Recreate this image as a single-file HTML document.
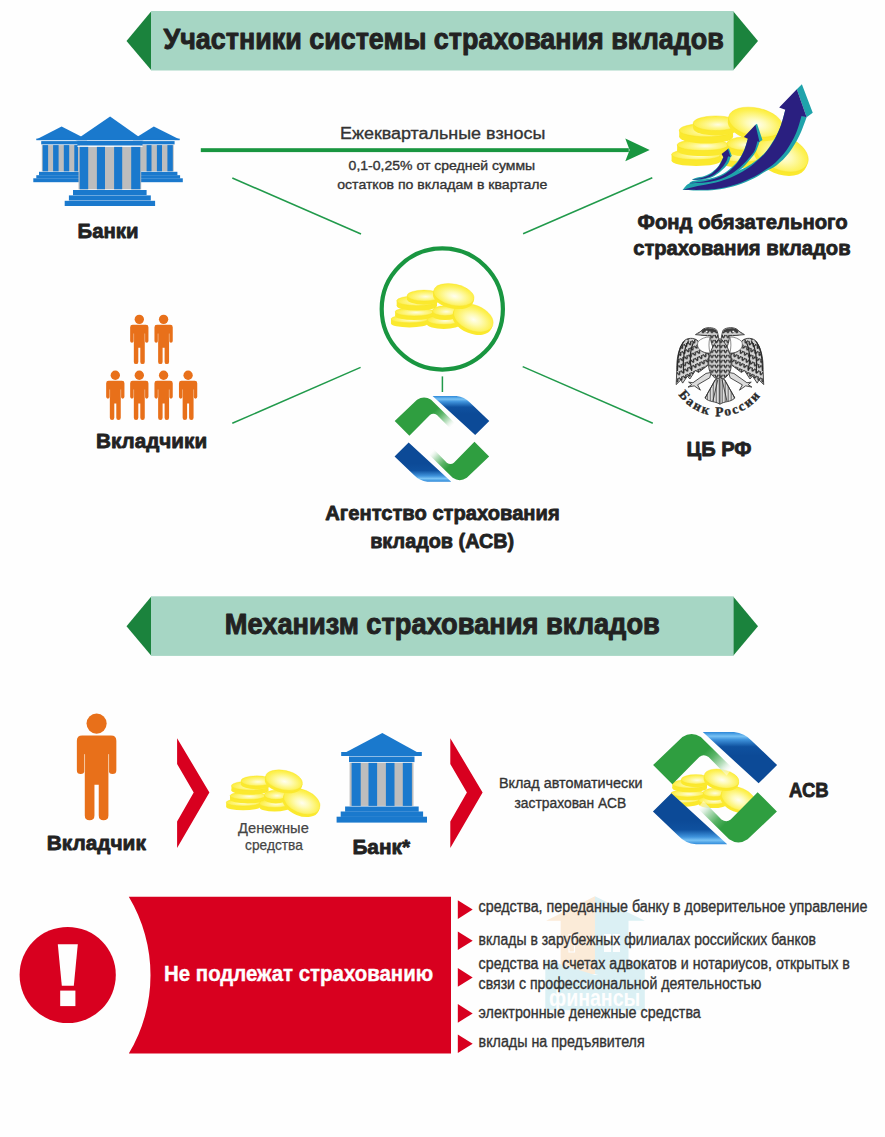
<!DOCTYPE html>
<html lang="ru">
<head>
<meta charset="utf-8">
<title>Система страхования вкладов</title>
<style>
html,body{margin:0;padding:0;background:#fefefe;}
body{width:885px;height:1137px;overflow:hidden;font-family:"Liberation Sans",sans-serif;}
svg{display:block;}
text{font-family:"Liberation Sans",sans-serif;}
.b{font-weight:bold;fill:#222;stroke:#222;stroke-width:0.8px;stroke-linejoin:round;}
.r{font-weight:normal;fill:#333;stroke:#333;stroke-width:0.35px;stroke-linejoin:round;}
.serif{font-family:"Liberation Serif",serif;font-weight:bold;fill:#2a2a2a;stroke:#2a2a2a;stroke-width:0.35px;}
</style>
</head>
<body>
<svg width="885" height="1137" viewBox="0 0 885 1137">
<defs>
<symbol id="person" viewBox="-100 0 200 500" overflow="visible">
<circle cx="0" cy="47" r="47"/>
<path d="M-67,102 H67 Q92,102 92,127 V264 Q92,282 74,282 Q57,282 57,264 V190 H55 V475 Q55,497 32.500,497 Q10,497 10,475 V332 H-10 V475 Q-10,497 -32.500,497 Q-55,497 -55,475 V190 H-57 V264 Q-57,282 -74,282 Q-92,282 -92,264 V127 Q-92,102 -67,102 Z"/>
<path d="M-56,190 V270 M56,190 V270" stroke="#f6c9a3" stroke-width="4" fill="none"/>
</symbol>
<radialGradient id="cg" cx="0.52" cy="0.56" r="0.6">
<stop offset="0" stop-color="#fffef0"/><stop offset="0.3" stop-color="#fefbb8"/><stop offset="0.75" stop-color="#fdf155"/><stop offset="1" stop-color="#fdec30"/>
</radialGradient>
<radialGradient id="cg2" cx="0.55" cy="0.6" r="0.62">
<stop offset="0" stop-color="#fffde0"/><stop offset="0.4" stop-color="#fef78e"/><stop offset="1" stop-color="#fdec30"/>
</radialGradient>
<symbol id="coins" viewBox="0 0 885 500" overflow="visible">
<g><ellipse cx="188" cy="374" rx="142" ry="30" fill="#fbe92e"/><rect x="46" y="338" width="284" height="36" fill="#fbe92e"/><ellipse cx="188" cy="338" rx="142" ry="30" fill="url(#cg2)" stroke="#f6e022" stroke-width="2.5"/></g>
<g><ellipse cx="225" cy="315" rx="147" ry="32" fill="#fbe92e"/><rect x="78" y="283" width="294" height="32" fill="#fbe92e"/><ellipse cx="225" cy="283" rx="147" ry="32" fill="url(#cg2)" stroke="#f6e022" stroke-width="2.5"/></g>
<g><ellipse cx="245" cy="236" rx="155" ry="38" fill="#fbe92e"/><rect x="90" y="198" width="310" height="38" fill="#fbe92e"/><ellipse cx="245" cy="198" rx="155" ry="38" fill="url(#cg2)" stroke="#f6e022" stroke-width="2.5"/></g>
<g><ellipse cx="300" cy="186" rx="130" ry="42" fill="#fbe92e"/><rect x="170" y="158" width="260" height="28" fill="#fbe92e"/><ellipse cx="300" cy="158" rx="130" ry="42" fill="url(#cg2)" stroke="#f6e022" stroke-width="2.5"/></g>
<g><ellipse cx="452" cy="379" rx="128" ry="36" fill="#fbe92e"/><rect x="324" y="345" width="256" height="34" fill="#fbe92e"/><ellipse cx="452" cy="345" rx="128" ry="36" fill="url(#cg2)" stroke="#f6e022" stroke-width="2.5"/></g>
<g><ellipse cx="462" cy="309" rx="98" ry="38" fill="#fbe92e"/><rect x="364" y="275" width="196" height="34" fill="#fbe92e"/><ellipse cx="462" cy="275" rx="98" ry="38" fill="url(#cg2)" stroke="#f6e022" stroke-width="2.5"/></g>
<g transform="rotate(22 680 330)"><ellipse cx="680" cy="354" rx="160" ry="98" fill="#fbe92e"/><rect x="520" y="330" width="320" height="24" fill="#fbe92e"/><ellipse cx="680" cy="330" rx="160" ry="98" fill="url(#cg)" stroke="#f6e022" stroke-width="2.5"/></g>
<g transform="rotate(12 530 152)"><ellipse cx="530" cy="176" rx="158" ry="82" fill="#fbe92e"/><rect x="372" y="152" width="316" height="24" fill="#fbe92e"/><ellipse cx="530" cy="152" rx="158" ry="82" fill="url(#cg)" stroke="#f6e022" stroke-width="2.5"/></g>
</symbol>
<linearGradient id="gfade" gradientUnits="userSpaceOnUse" x1="385" y1="265" x2="495" y2="375">
<stop offset="0" stop-color="#2f9e40"/><stop offset="0.3" stop-color="#5ab467"/><stop offset="0.7" stop-color="#bfe2c4"/><stop offset="1" stop-color="#fdfdfd" stop-opacity="0.45"/>
</linearGradient>
<linearGradient id="bgrad" gradientUnits="userSpaceOnUse" x1="0" y1="176" x2="0" y2="300">
<stop offset="0" stop-color="#2a86d8"/><stop offset="0.18" stop-color="#78c2f4"/><stop offset="0.32" stop-color="#3f93dc"/><stop offset="0.62" stop-color="#0f519f"/><stop offset="1" stop-color="#0c4a97"/>
</linearGradient>
<g id="asvtop">
<path d="M100,348 L252,203 Q300,170 348,203 L512,364 L482,402 L388,306 Q362,288 340,306 L200,448 Z" fill="url(#gfade)"/>
<path d="M358,177 L520,177 Q575,182 612,222 L744,348 L648,443 Z" fill="url(#bgrad)"/>
</g>
<g id="asvbot"><use href="#asvtop" transform="rotate(180 421.5 468.5)"/></g>
<pattern id="feath" patternUnits="userSpaceOnUse" width="36" height="46" patternTransform="rotate(-24)">
<rect width="36" height="46" fill="#d4d4d4"/>
<path d="M0,0 Q18,62 36,0 Z" fill="#2c2c2c"/>
<path d="M13,0 Q18,30 23,0 Z" fill="#f0f0f0"/>
</pattern>
<pattern id="scale" patternUnits="userSpaceOnUse" width="36" height="40">
<rect width="36" height="40" fill="#cfcfcf"/>
<path d="M0,0 Q18,54 36,0 Z" fill="#2c2c2c"/>
<path d="M13,0 Q18,26 23,0 Z" fill="#f0f0f0"/>
</pattern>
<pattern id="tailp" patternUnits="userSpaceOnUse" width="24" height="10">
<rect width="24" height="10" fill="#f0f0f0"/><rect x="0" width="7" height="10" fill="#4a4a4a"/><rect x="14" width="3" height="10" fill="#909090"/>
</pattern>
<!--DEFS-->
</defs>
<rect x="0" y="0" width="885" height="1137" fill="#fefefe"/>

<!-- ===== Banner 1 ===== -->
<g id="banner1">
<polygon points="151.3,11.3 126.5,40.9 151.3,70.3" fill="#1b833d"/>
<polygon points="733.2,11.3 758,40.9 733.2,70.3" fill="#1b833d"/>
<rect x="151" y="11" width="582.5" height="59.5" fill="#a6d6c4"/>
<text class="b" style="stroke-width:0.95px" x="163.4" y="48.8" font-size="29" textLength="560.4" lengthAdjust="spacingAndGlyphs">Участники системы страхования вкладов</text>
</g>

<!-- ===== Connector lines ===== -->
<g id="lines" stroke="#219a4b" stroke-width="1.5" fill="none" stroke-linecap="butt">
<line x1="232.3" y1="178" x2="361" y2="234"/>
<line x1="652.3" y1="177.8" x2="523.1" y2="233.7"/>
<line x1="232.3" y1="423.3" x2="360.6" y2="367.4"/>
<line x1="522.7" y1="366.6" x2="652.8" y2="423.2"/>
<line x1="442.4" y1="376.4" x2="442.4" y2="392"/>
</g>

<!-- ===== Big arrow ===== -->
<g id="arrow">
<rect x="200.8" y="148.2" width="428" height="3.9" fill="#199640"/>
<polygon points="649.7,150.1 625.3,138.4 629.6,150.1 625.3,161.2" fill="#199640"/>
<text class="r" x="340" y="139" font-size="17.3" textLength="205.3" lengthAdjust="spacingAndGlyphs" fill="#333">Ежеквартальные взносы</text>
<text class="r" x="348.6" y="170.2" font-size="13.4" textLength="186.6" lengthAdjust="spacingAndGlyphs">0,1-0,25% от средней суммы</text>
<text class="r" x="337.2" y="188.6" font-size="13.4" textLength="210.2" lengthAdjust="spacingAndGlyphs">остатков по вкладам в квартале</text>
</g>

<!-- ===== Banks icon (3) ===== -->
<g id="banks">
<polygon points="61.6,126.4 36.3,139.6 87,139.6" fill="#1a79cd"/>
<rect x="36.3" y="138.6" width="50.7" height="1.6" fill="#1a79cd"/>
<rect x="41.2" y="141.1" width="38.8" height="3.3" fill="#1a79cd"/>
<rect x="41.8" y="145.1" width="38.2" height="26.2" fill="#bdbdbd"/>
<rect x="42.7" y="145.1" width="5.4" height="26.2" fill="#1a79cd"/>
<rect x="53.1" y="145.1" width="5.5" height="26.2" fill="#1a79cd"/>
<rect x="63.8" y="145.1" width="5.4" height="26.2" fill="#1a79cd"/>
<rect x="74.3" y="145.1" width="3.7" height="26.2" fill="#1a79cd"/>
<rect x="39" y="171.8" width="41.0" height="3.6" fill="#1a79cd"/>
<rect x="36.3" y="175.2" width="43.7" height="3.3" fill="#1a79cd"/>
<rect x="33.3" y="178.3" width="46.7" height="3.9" fill="#1a79cd"/>
<polygon points="153.8,126.4 133,139.6 179.7,139.6" fill="#1a79cd"/>
<rect x="133" y="138.6" width="46.7" height="1.6" fill="#1a79cd"/>
<rect x="140" y="141.1" width="34.6" height="3.3" fill="#1a79cd"/>
<rect x="140" y="145.1" width="33.7" height="26.2" fill="#bdbdbd"/>
<rect x="146.6" y="145.1" width="4.9" height="26.2" fill="#1a79cd"/>
<rect x="156.9" y="145.1" width="5.1" height="26.2" fill="#1a79cd"/>
<rect x="167.4" y="145.1" width="5.4" height="26.2" fill="#1a79cd"/>
<rect x="140" y="171.8" width="37.4" height="3.6" fill="#1a79cd"/>
<rect x="140" y="175.2" width="40.1" height="3.3" fill="#1a79cd"/>
<rect x="140" y="178.3" width="42.8" height="3.9" fill="#1a79cd"/>
<polygon points="110.1,116.6 75.8,139.9 143.4,139.9" fill="#1a79cd"/>
<rect x="75.8" y="138.4" width="67.6" height="1.8" fill="#1a79cd"/>
<rect x="77.4" y="140.9" width="65.1" height="4.8" fill="#1a79cd"/>
<rect x="77.4" y="145.7" width="65.1" height="1.2" fill="#fefefe"/>
<rect x="78.5" y="146.9" width="62.7" height="42.4" fill="#bdbdbd"/>
<rect x="79.7" y="146.9" width="8.5" height="42.4" fill="#1a79cd"/>
<rect x="96.9" y="146.9" width="8.1" height="42.4" fill="#1a79cd"/>
<rect x="114.1" y="146.9" width="8.1" height="42.4" fill="#1a79cd"/>
<rect x="131.2" y="146.9" width="9.1" height="42.4" fill="#1a79cd"/>
<rect x="73" y="190" width="73.6" height="5.1" fill="#1a79cd"/>
<rect x="68.9" y="195.4" width="81.9" height="5.1" fill="#1a79cd"/>
<rect x="64.7" y="200.8" width="90.4" height="5.2" fill="#1a79cd"/>
</g>
<text class="b" x="77.6" y="238.1" font-size="21" textLength="61" lengthAdjust="spacingAndGlyphs">Банки</text>

<!-- ===== Fund icon ===== -->
<g id="fund">
<g transform="translate(663.6,95.8) scale(0.1737)"><use href="#coins" x="0" y="0" width="885" height="500"/></g>
<g transform="translate(675,120) scale(0.11299)">
<path d="M66,619 L66,619 C77.5,608.7 96.0,571.0 135,557 C174.0,543.0 247.5,545.3 300,535 C352.5,524.7 400.0,512.2 450,495 C500.0,477.8 558.3,452.5 600,432 C641.7,411.5 666.7,396.5 700,372 C733.3,347.5 769.2,320.3 800,285 C830.8,249.7 861.7,200.8 885,160 C908.3,119.2 924.8,81.7 940,40 C955.2,-1.7 970.0,-68.3 976,-90 L1165,-25 L1219,-65 L1123,-317 L1078,-272 L1165,-25 L1165,-25 C1154.2,2.5 1125.8,87.5 1100,140 C1074.2,192.5 1043.3,246.7 1010,290 C976.7,333.3 935.0,372.5 900,400 C865.0,427.5 833.3,435.8 800,455 C766.7,474.2 741.7,494.5 700,515 C658.3,535.5 600.0,561.8 550,578 C500.0,594.2 450.0,604.3 400,612 C350.0,619.7 305.7,622.8 250,624 C194.3,625.2 96.7,619.8 66,619 Z" fill="#1fa3ab"/>
<path d="M72,618 L72,618 C93.3,612.5 157.0,594.7 200,585 C243.0,575.3 286.7,570.5 330,560 C373.3,549.5 415.0,539.5 460,522 C505.0,504.5 560.0,477.8 600,455 C640.0,432.2 666.7,412.5 700,385 C733.3,357.5 769.2,326.7 800,290 C830.8,253.3 861.7,206.7 885,165 C908.3,123.3 924.8,82.5 940,40 C955.2,-2.5 970.0,-68.3 976,-90 L922,-110 L1078,-272 L1165,-25 L1120,-36 L1120,-36 C1111.7,-10.0 1092.5,69.0 1070,120 C1047.5,171.0 1015.8,226.7 985,270 C954.2,313.3 915.8,351.7 885,380 C854.2,408.3 830.8,419.7 800,440 C769.2,460.3 741.7,481.0 700,502 C658.3,523.0 600.0,549.2 550,566 C500.0,582.8 450.0,594.3 400,603 C350.0,611.7 304.7,615.5 250,618 C195.3,620.5 101.7,618.0 72,618 Z" fill="#2a1f80"/>
<path d="M126,560 L126,560 C132.7,556.3 137.0,544.7 166,538 C195.0,531.3 261.0,528.3 300,520 C339.0,511.7 370.0,501.7 400,488 C430.0,474.3 453.3,459.7 480,438 C506.7,416.3 537.5,388.0 560,358 C582.5,328.0 600.8,290.2 615,258 C629.2,225.8 640.0,180.5 645,165 L712,42 L726,34 L774,176 L748,194 L748,194 C743.3,206.7 731.3,247.3 720,270 C708.7,292.7 700.0,305.0 680,330 C660.0,355.0 629.2,393.3 600,420 C570.8,446.7 538.3,470.7 505,490 C471.7,509.3 437.5,524.3 400,536 C362.5,547.7 325.7,555.7 280,560 C234.3,564.3 151.7,561.7 126,562 Z" fill="#1fa3ab"/>
<path d="M132,559 L132,559 C151.7,556.7 208.7,553.2 250,545 C291.3,536.8 343.3,524.5 380,510 C416.7,495.5 441.7,479.7 470,458 C498.3,436.3 526.7,410.5 550,380 C573.3,349.5 594.2,310.8 610,275 C625.8,239.2 639.2,183.3 645,165 L610,150 L712,42 L748,194 L730,188 L730,188 C725.8,201.7 715.8,247.2 705,270 C694.2,292.8 684.2,302.5 665,325 C645.8,347.5 617.5,379.8 590,405 C562.5,430.2 531.7,456.2 500,476 C468.3,495.8 436.7,511.3 400,524 C363.3,536.7 324.7,545.8 280,552 C235.3,558.2 156.7,559.5 132,561 Z" fill="#2a1f80"/>
<path d="M150,530 L150,530 C155.3,527.2 163.7,518.7 182,513 C200.3,507.3 235.3,504.8 260,496 C284.7,487.2 309.2,474.7 330,460 C350.8,445.3 368.7,429.7 385,408 C401.3,386.3 420.8,343.0 428,330 L468,257 L477,251 L503,318 L492,328 L492,328 C488.3,337.5 483.7,364.7 470,385 C456.3,405.3 432.5,430.3 410,450 C387.5,469.7 361.7,490.0 335,503 C308.3,516.0 280.8,523.2 250,528 C219.2,532.8 166.7,531.3 150,532 Z" fill="#1fa3ab"/>
<path d="M156,529 L156,529 C171.7,525.8 222.7,518.5 250,510 C277.3,501.5 299.2,492.2 320,478 C340.8,463.8 360.8,441.3 375,425 C389.2,408.7 396.2,395.8 405,380 C413.8,364.2 424.2,338.3 428,330 L412,300 L468,257 L492,328 L470,320 L470,320 C466.7,329.2 461.7,355.0 450,375 C438.3,395.0 420.0,420.2 400,440 C380.0,459.8 355.0,480.5 330,494 C305.0,507.5 279.0,514.8 250,521 C221.0,527.2 171.7,529.3 156,531 Z" fill="#2a1f80"/>
</g>
</g>
<text class="b" x="637.6" y="228.8" font-size="21" textLength="210.1" lengthAdjust="spacingAndGlyphs">Фонд обязательного</text>
<text class="b" x="633.2" y="255.3" font-size="21" textLength="217.4" lengthAdjust="spacingAndGlyphs">страхования вкладов</text>

<!-- ===== Center circle ===== -->
<circle cx="442.3" cy="309" r="60.6" fill="none" stroke="#199640" stroke-width="4.2"/>
<g id="centercoins">
<g transform="translate(385,275) scale(0.12994)"><use href="#coins" x="0" y="0" width="885" height="500"/></g>
</g>

<!-- ===== People ===== -->
<g id="people">
<g fill="#e8701a">
<g transform="translate(139.3,314.7) scale(0.09940)"><use href="#person" x="-100" y="0" width="200" height="500"/></g>
<g transform="translate(163.6,314.7) scale(0.09940)"><use href="#person" x="-100" y="0" width="200" height="500"/></g>
<g transform="translate(115.3,370.6) scale(0.09940)"><use href="#person" x="-100" y="0" width="200" height="500"/></g>
<g transform="translate(139.3,370.6) scale(0.09940)"><use href="#person" x="-100" y="0" width="200" height="500"/></g>
<g transform="translate(163.6,370.6) scale(0.09940)"><use href="#person" x="-100" y="0" width="200" height="500"/></g>
<g transform="translate(188.1,370.6) scale(0.09940)"><use href="#person" x="-100" y="0" width="200" height="500"/></g>
</g>
</g>
<text class="b" x="96.1" y="448.3" font-size="21" textLength="111" lengthAdjust="spacingAndGlyphs">Вкладчики</text>

<!-- ===== ASV logo small ===== -->
<g id="asv1">
<g transform="translate(380,370) scale(0.14689)"><use href="#asvtop"/><use href="#asvbot"/></g>
</g>
<text class="b" x="325.3" y="520.2" font-size="21" textLength="234.4" lengthAdjust="spacingAndGlyphs">Агентство страхования</text>
<text class="b" x="370.2" y="547.6" font-size="21" textLength="144" lengthAdjust="spacingAndGlyphs">вкладов (АСВ)</text>

<!-- ===== CB RF ===== -->
<g id="cbrf">
<g transform="translate(665,315) scale(0.1243)">
<!-- left wing -->
<g id="wingL">
<path d="M355,305 C300,305 258,272 272,218 C255,186 195,176 158,204 C112,258 93,340 95,440 L90,560 L128,522 L142,548 L180,492 L200,515 L245,446 L270,462 L345,405 Z" fill="url(#feath)" stroke="#333" stroke-width="7"/>
<path d="M266,214 C246,268 296,308 362,306 C352,262 350,225 362,176 C325,176 290,190 266,214 Z" fill="#fefefe" stroke="#444" stroke-width="5"/>
<path d="M150,215 C110,270 98,350 100,450 M190,205 C150,270 140,350 150,470 M230,215 C200,280 195,360 215,450" fill="none" stroke="#2a2a2a" stroke-width="10"/>
<!-- leg -->
<path d="M372,462 L330,470 L225,545 L190,540 L215,560 L185,580 L235,570 L285,605 L262,562 L360,505 Z" fill="#dcdcdc" stroke="#333" stroke-width="7"/>
<!-- head -->
<path d="M405,300 C380,250 362,205 368,165 C340,170 300,162 245,158 C270,140 290,135 300,118 C330,95 390,98 415,120 C430,150 436,220 438,300 Z" fill="url(#scale)" stroke="#333" stroke-width="7"/>
<path d="M300,118 C330,100 385,102 412,122 L405,140 C370,128 335,128 300,140 Z" fill="#3d3d3d"/>
<circle cx="335" cy="133" r="9" fill="#fff" stroke="#333" stroke-width="3"/>
</g>
<use href="#wingL" transform="translate(884,0) scale(-1,1)"/>
<!-- body -->
<path d="M442,190 C380,230 345,330 352,420 C360,480 400,515 442,522 C484,515 524,480 532,420 C539,330 504,230 442,190 Z" fill="url(#scale)" stroke="#333" stroke-width="7"/>
<line x1="442" y1="200" x2="442" y2="520" stroke="#333" stroke-width="7"/>
<!-- tail -->
<path d="M442,505 L405,520 L322,668 C360,705 400,690 442,718 C484,690 524,705 562,668 L479,520 Z" fill="url(#tailp)" stroke="#333" stroke-width="7"/>
<path d="M405,520 L322,668 M425,520 L385,695 M459,520 L499,695 M479,520 L562,668 M442,515 L442,715" stroke="#333" stroke-width="7" fill="none"/>
</g>
<path id="cbarc" d="M670.0,373.4 A50.5,50.5 0 0 0 769.8,373.4" fill="none"/>
<text class="serif" font-size="13.4" letter-spacing="1.9"><textPath href="#cbarc" startOffset="50%" text-anchor="middle">Банк России</textPath></text>
</g>
<text class="b" x="686.5" y="456.1" font-size="21" textLength="65" lengthAdjust="spacingAndGlyphs">ЦБ РФ</text>

<!-- ===== Banner 2 ===== -->
<g id="banner2">
<polygon points="151.3,596.6 126.5,626.3 151.3,655.8" fill="#1b833d"/>
<polygon points="733.2,596.6 758,626.3 733.2,655.8" fill="#1b833d"/>
<rect x="151" y="596.3" width="582.5" height="59.6" fill="#a6d6c4"/>
<text class="b" style="stroke-width:0.95px" x="224.8" y="634.2" font-size="28.6" textLength="435" lengthAdjust="spacingAndGlyphs">Механизм страхования вкладов</text>
</g>

<!-- ===== Mechanism row ===== -->
<g id="mech">
<g fill="#e8701a" transform="translate(96.6,713.5) scale(0.21469)"><use href="#person" x="-100" y="0" width="200" height="500"/></g>
<text class="b" x="46.7" y="850.3" font-size="21" textLength="99.2" lengthAdjust="spacingAndGlyphs">Вкладчик</text>
<polygon points="177.1,738.2 209.39999999999998,792.5 177.1,848.1 177.1,821.4 193.7,792.5 177.1,764" fill="#d8001f"/>
<polygon points="450.3,738.2 482.6,792.5 450.3,848.1 450.3,821.4 466.90000000000003,792.5 450.3,764" fill="#d8001f"/>
<g transform="translate(220.7,762) scale(0.11937)"><use href="#coins" x="0" y="0" width="885" height="500"/></g>
<text class="r" style="fill:#454545;stroke:#454545;stroke-width:0.25px" x="238.1" y="832.5" font-size="14.4" textLength="70.7" lengthAdjust="spacingAndGlyphs">Денежные</text>
<text class="r" style="fill:#454545;stroke:#454545;stroke-width:0.25px" x="245.1" y="849.9" font-size="14.4" textLength="57.7" lengthAdjust="spacingAndGlyphs">средства</text>
<polygon points="382.3,733 341.2,754.8 421.8,754.8" fill="#1a79cd"/>
<rect x="341.2" y="752" width="80.6" height="4" fill="#1a79cd"/>
<rect x="349" y="756.5" width="65.5" height="5.6" fill="#1a79cd"/>
<rect x="349.6" y="762.9" width="63.9" height="43" fill="#bdbdbd"/>
<rect x="351.6" y="762.9" width="9.1" height="43" fill="#1a79cd"/>
<rect x="368.5" y="762.9" width="8.6" height="43" fill="#1a79cd"/>
<rect x="385.9" y="762.9" width="8.6" height="43" fill="#1a79cd"/>
<rect x="402.8" y="762.9" width="9.1" height="43" fill="#1a79cd"/>
<rect x="345.1" y="806.5" width="73.6" height="5.2" fill="#1a79cd"/>
<rect x="340.7" y="811.5" width="82.4" height="5.4" fill="#1a79cd"/>
<rect x="336.6" y="816.7" width="90.4" height="5.9" fill="#1a79cd"/>
<text class="b" x="352.4" y="854.1" font-size="21" textLength="57.7" lengthAdjust="spacingAndGlyphs">Банк*</text>
<text class="r" x="498.9" y="788.1" font-size="15.5" textLength="143.7" lengthAdjust="spacingAndGlyphs">Вклад автоматически</text>
<text class="r" x="514.5" y="807.8" font-size="15.5" textLength="111.7" lengthAdjust="spacingAndGlyphs">застрахован АСВ</text>
<g transform="translate(662.2,761.6) scale(0.112)"><use href="#coins" x="0" y="0" width="885" height="500"/></g>
<g transform="translate(633.85,698.03) scale(0.19253)"><use href="#asvtop"/><use href="#asvbot"/></g>
<text class="b" x="789" y="796.5" font-size="21" textLength="39.7" lengthAdjust="spacingAndGlyphs">АСВ</text>
</g>

<!-- ===== Bottom red block ===== -->
<g id="bottom">
<g id="wm" opacity="0.9">
<polygon points="595,896.3 546.2,920.7 560.7,920.7 560.7,974 595,974" fill="#fbe9d4"/>
<polygon points="595,896.3 644.8,920.7 628.5,920.7 628.5,974 595,974" fill="#d8eff4"/>
<polygon points="545.3,959.6 595,975 644.8,959.6 644.8,1010.2 545.3,1010.2" fill="#d8eff4"/>
<rect x="569" y="934.5" width="5.5" height="17.5" fill="none" stroke="#fefefe" stroke-width="1.2"/><rect x="604" y="934" width="7" height="8" fill="#fefefe"/><rect x="613" y="934" width="7" height="8" fill="#fefefe"/><rect x="604" y="944" width="7" height="8" fill="#fefefe"/><rect x="613" y="944" width="7" height="8" fill="#fefefe"/>
<text x="549" y="1006.4" font-size="23.5" font-weight="bold" fill="#fefefe" textLength="91.3" lengthAdjust="spacingAndGlyphs">финансы</text>
</g>
<circle cx="67.7" cy="975" r="48.1" fill="#d8001f"/>
<polygon points="57.8,944.3 77.8,944.3 73.8,985.8 61.8,985.8" fill="#fefefe"/>
<rect x="60.2" y="990.6" width="15.2" height="15.5" fill="#fefefe"/>
<path d="M128.8,896.8 H451 V1053.6 H128.8 A152.5,152.5 0 0 0 128.8,896.8 Z" fill="#d8001f"/>
<text x="164.1" y="981.4" font-size="22" font-weight="bold" fill="#fefefe" stroke="#fefefe" stroke-width="0.4" textLength="269" lengthAdjust="spacingAndGlyphs">Не подлежат страхованию</text>
<polygon points="457.8,900.3 472.7,909.6 457.8,918.9" fill="#d8001f"/>
<polygon points="457.8,931.4 472.7,940.7 457.8,950.0" fill="#d8001f"/>
<polygon points="457.8,968.1 472.7,977.4 457.8,986.7" fill="#d8001f"/>
<polygon points="457.8,1004.1 472.7,1013.4 457.8,1022.7" fill="#d8001f"/>
<polygon points="457.8,1034.5 472.7,1043.8 457.8,1053.1" fill="#d8001f"/>
<text class="r" x="478.6" y="911.7" font-size="15.6" textLength="388.8" lengthAdjust="spacingAndGlyphs">средства, переданные банку в доверительное управление</text>
<text class="r" x="478.6" y="944.6" font-size="15.6" textLength="337.3" lengthAdjust="spacingAndGlyphs">вклады в зарубежных филиалах российских банков</text>
<text class="r" x="478.6" y="969" font-size="15.6" textLength="371.3" lengthAdjust="spacingAndGlyphs">средства на счетах адвокатов и нотариусов, открытых в</text>
<text class="r" x="478.6" y="989" font-size="15.6" textLength="282.7" lengthAdjust="spacingAndGlyphs">связи с профессиональной деятельностью</text>
<text class="r" x="478.6" y="1017.6" font-size="15.6" textLength="222.2" lengthAdjust="spacingAndGlyphs">электронные денежные средства</text>
<text class="r" x="478.6" y="1046.7" font-size="15.6" textLength="166.1" lengthAdjust="spacingAndGlyphs">вклады на предъявителя</text>
</g>
</svg>
</body>
</html>
